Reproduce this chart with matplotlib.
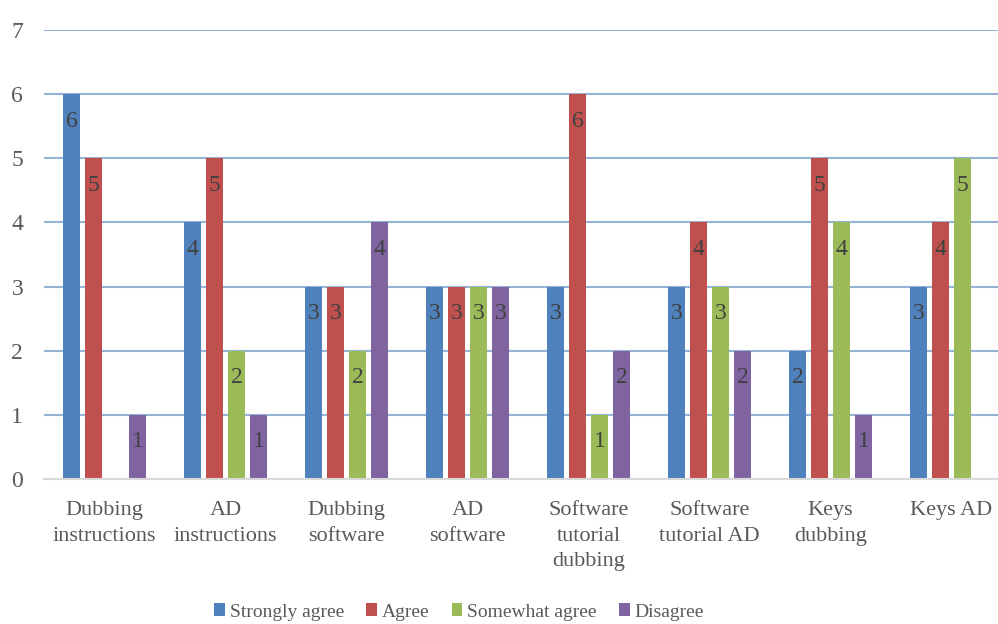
import matplotlib
matplotlib.use("Agg")
import matplotlib.pyplot as plt
import numpy as np
from matplotlib.patches import Patch

categories = ["Dubbing\ninstructions", "AD\ninstructions", "Dubbing\nsoftware", "AD\nsoftware",
              "Software\ntutorial\ndubbing", "Software\ntutorial AD", "Keys\ndubbing", "Keys AD"]
series_names = ["Strongly agree", "Agree", "Somewhat agree", "Disagree"]
strongly_agree = [6, 4, 3, 3, 3, 3, 2, 3]
agree = [5, 5, 3, 3, 6, 4, 5, 4]
somewhat_agree = [0, 2, 2, 3, 1, 3, 4, 5]
disagree = [1, 1, 4, 3, 2, 2, 1, 0]
y_ticks = [0, 1, 2, 3, 4, 5, 6, 7]

colors = ["#4F81BD", "#C0504D", "#9BBB59", "#8064A2"]
series = [strongly_agree, agree, somewhat_agree, disagree]

plt.rcParams['font.family'] = ['Liberation Serif', 'DejaVu Serif']

W, H = 998, 624
fig = plt.figure(figsize=(W / 100, H / 100), dpi=100)
left, right = 44, 1012
top, bottom = 30, 479
ax = fig.add_axes([left / W, (H - bottom) / H, (right - left) / W, (bottom - top) / H])

x = np.arange(len(categories))
step = 22 / 121
bw = 17 / 121
for i, (vals, c) in enumerate(zip(series, colors)):
    xs = x + (i - 1.5) * step
    ax.bar(xs, vals, width=bw, color=c, zorder=3)
    for xi, v in zip(xs, vals):
        if v > 0:
            ax.annotate(str(v), (xi, v), xytext=(0, -27), textcoords="offset pixels",
                        ha="center", va="center", fontsize=17, color="#404040", zorder=4)

ax.set_xlim(-0.5, len(categories) - 0.5)
ax.set_ylim(0, 7)
ax.set_yticks(y_ticks)
ax.set_yticklabels([str(t) for t in y_ticks], fontsize=17, color="#595959")
ax.set_xticks(x)
ax.set_xticklabels(categories, fontsize=16, color="#595959", linespacing=1.45)
ax.tick_params(axis="both", length=0)
ax.tick_params(axis="y", pad=15)
ax.tick_params(axis="x", pad=16)
ax.yaxis.grid(True, color="#95B3D7", linewidth=1.5, zorder=0)
for s in ["top", "right", "left"]:
    ax.spines[s].set_visible(False)
ax.spines["bottom"].set_color("#D9D9D9")
ax.spines["bottom"].set_linewidth(1.5)
ax.spines["bottom"].set_zorder(4)

handles = [Patch(facecolor=c, edgecolor="none") for c in colors]
fig.legend(handles, series_names, loc="center", bbox_to_anchor=(459 / W, 1 - 612 / H),
           ncol=4, frameon=False, fontsize=14, labelcolor="#595959",
           handlelength=0.55, handleheight=0.6, handletextpad=0.25, columnspacing=1.15)

fig.savefig("out.png", dpi=100)
